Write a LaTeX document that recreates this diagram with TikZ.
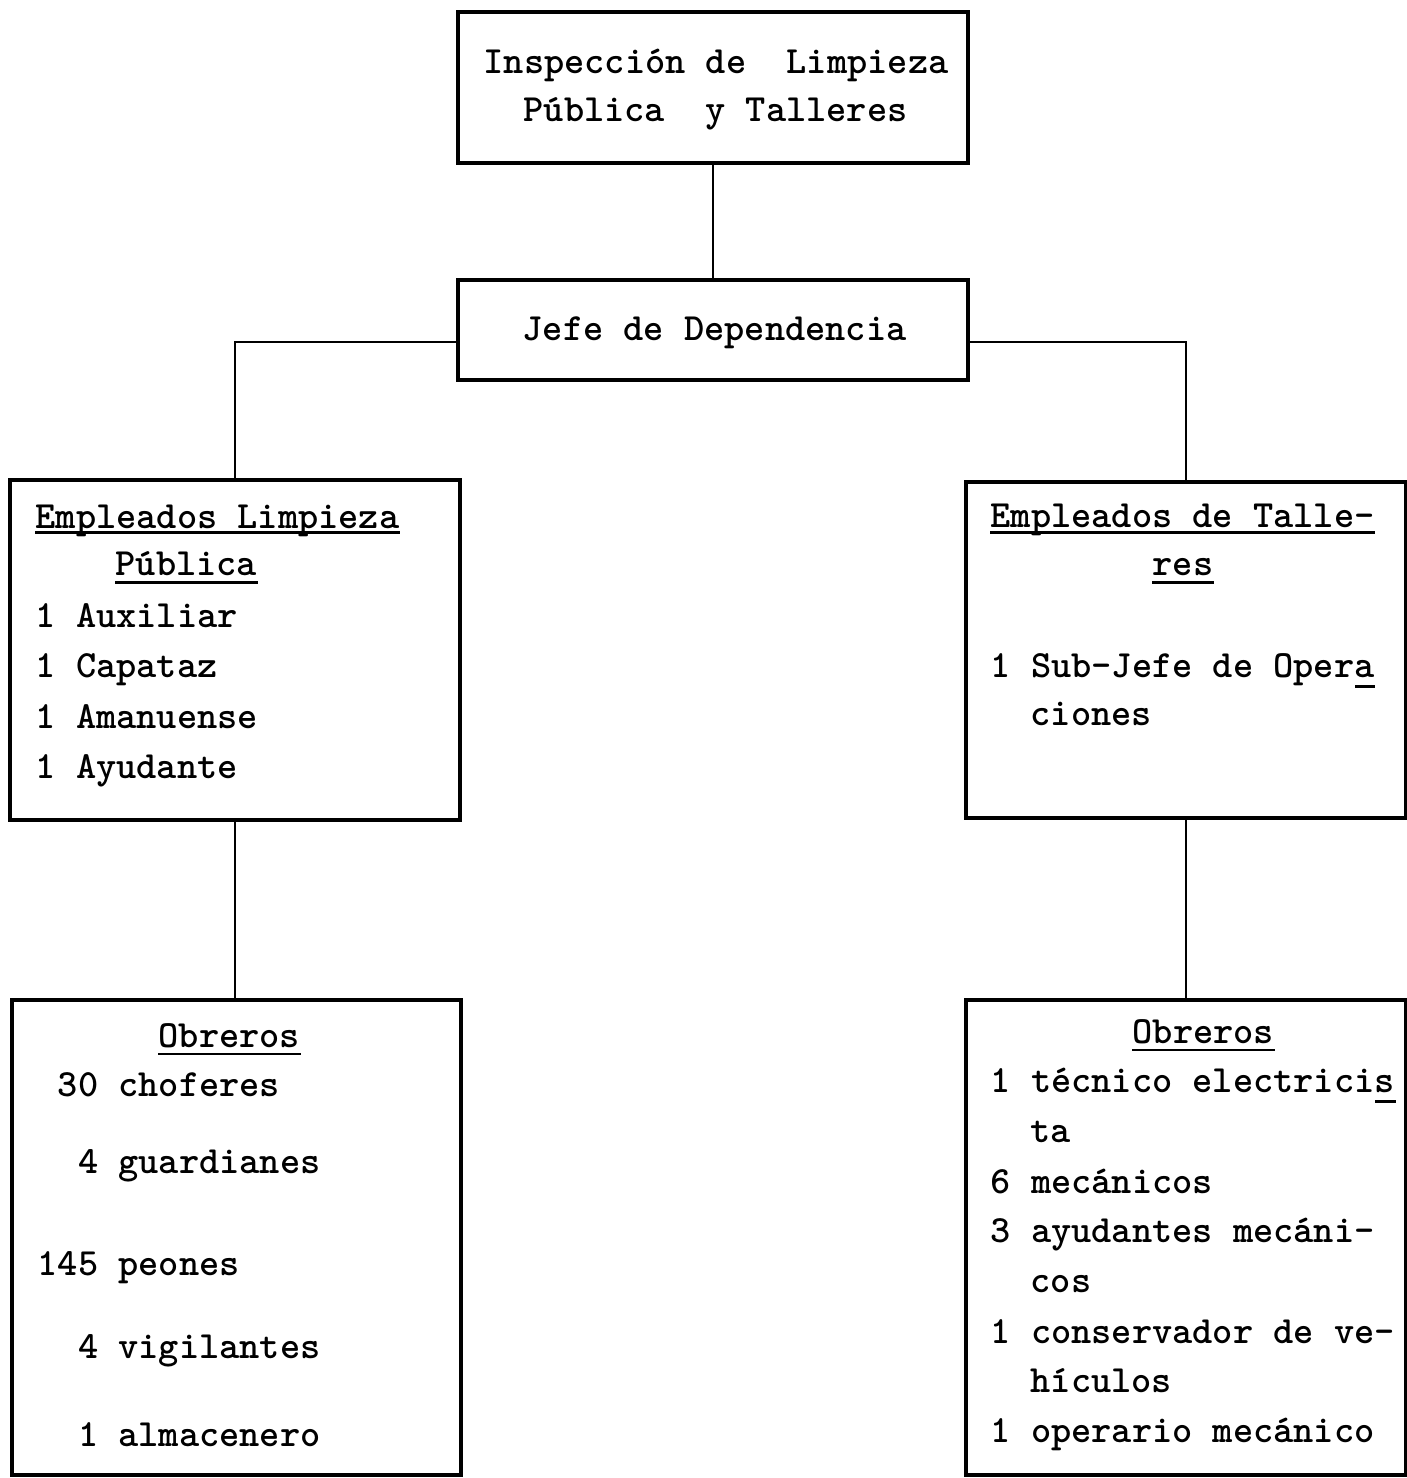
\documentclass[tikz,border=0pt]{standalone}
\usepackage{tikz}

\newcommand{\maquina}{\ttfamily\bfseries\fontsize{10.95}{14}\selectfont}

\tikzset{
  caja/.style={draw, line width=0.9pt, inner sep=0pt},
  linea/.style={line width=0.7pt},
  txt/.style={anchor=base west, inner sep=0pt, font=\maquina},
  subr/.style={line width=0.8pt},
}

\begin{document}
\begin{tikzpicture}
                \useasboundingbox (0,0) rectangle (14.07,-14.78);
                % cajas
                \node[caja, minimum width=5.10cm, minimum height=1.51cm] (insp) at (7.13,-0.875) {};
                \node[caja, minimum width=5.10cm, minimum height=1.00cm] (jefe) at (7.13,-3.30) {};
                \node[caja, minimum width=4.50cm, minimum height=3.40cm] (emplp) at (2.35,-6.50) {};
                \node[caja, minimum width=4.40cm, minimum height=3.36cm] (emplt) at (11.86,-6.50) {};
                \node[caja, minimum width=4.49cm, minimum height=4.75cm] (obrl) at (2.365,-12.375) {};
                \node[caja, minimum width=4.40cm, minimum height=4.75cm] (obrt) at (11.86,-12.375) {};
                % lineas
                \draw[linea] (insp.south) -- (jefe.north);
                \draw[linea] ([yshift=-1.2mm]jefe.west) -| (emplp.north);
                \draw[linea] ([yshift=-1.2mm]jefe.east) -| (emplt.north);
                \draw[linea] (emplp.south) -- (emplp.south |- obrl.north);
                \draw[linea] (emplt.south) -- (emplt.south |- obrt.north);
                % textos arriba
                \node[txt] (insp1) at (4.83,-0.73) {Inspección de~~Limpieza};
                \node[txt] (insp2) at (5.23,-1.21) {Pública~~y Talleres};
                \node[txt] (jefe1) at (5.22,-3.40) {Jefe de Dependencia};
                % empleados limpieza
                \node[txt] (elp1) at (0.35,-5.28) {Empleados Limpieza};
                \node[txt] (elp2) at (1.15,-5.75) {Pública};
                \node[txt] (elp3) at (0.35,-6.27) {1 Auxiliar};
                \node[txt] (elp4) at (0.35,-6.775) {1 Capataz};
                \node[txt] (elp5) at (0.35,-7.28) {1 Amanuense};
                \node[txt] (elp6) at (0.35,-7.785) {1 Ayudante};
                \draw[subr] ([yshift=-1.2pt]elp1.base west) -- ([yshift=-1.2pt]elp1.base east);
                \draw[subr] ([yshift=-2.2pt]elp2.base west) -- ([yshift=-2.2pt]elp2.base east);
                % empleados talleres
                \node[txt] (elt1) at (9.90,-5.27) {Empleados de Talle-};
                \node[txt] (elt2) at (11.52,-5.75) {res};
                \node[txt] (elt3) at (9.90,-6.77) {1 Sub-Jefe de Opera};
                \node[txt] (elt4) at (10.30,-7.25) {ciones};
                \draw[subr] ([yshift=-1.6pt]elt1.base west) -- ([yshift=-1.6pt]elt1.base east);
                \draw[subr] ([yshift=-2.2pt]elt2.base west) -- ([yshift=-2.2pt]elt2.base east);
                \draw[subr] ([xshift=-5.75pt,yshift=-2.6pt]elt3.base east) -- ([yshift=-2.6pt]elt3.base east);
                % obreros limpieza
                \node[txt] (obl1) at (1.58,-10.47) {Obreros};
                \node[txt] (obl2) at (0.37,-10.96) {~30 choferes};
                \node[txt] (obl3) at (0.37,-11.73) {~~4 guardianes};
                \node[txt] (obl4) at (0.37,-12.75) {145 peones};
                \node[txt] (obl5) at (0.37,-13.58) {~~4 vigilantes};
                \node[txt] (obl6) at (0.37,-14.46) {~~1 almacenero};
                \draw[subr] ([yshift=-2pt]obl1.base west) -- ([yshift=-2pt]obl1.base east);
                % obreros talleres
                \node[txt] (obt1) at (11.32,-10.43) {Obreros};
                \node[txt] (obt2) at (9.90,-10.92) {1 técnico electricis};
                \node[txt] (obt3) at (10.30,-11.42) {ta};
                \node[txt] (obt4) at (9.90,-11.93) {6 mecánicos};
                \node[txt] (obt5) at (9.90,-12.42) {3 ayudantes mecáni-};
                \node[txt] (obt6) at (10.30,-12.92) {cos};
                \node[txt] (obt7) at (9.90,-13.43) {1 conservador de ve-};
                \node[txt] (obt8) at (10.30,-13.92) {hículos};
                \node[txt] (obt9) at (9.90,-14.42) {1 operario mecánico};
                \draw[subr] ([yshift=-2pt]obt1.base west) -- ([yshift=-2pt]obt1.base east);
                \draw[subr] ([xshift=-5.75pt,yshift=-2.6pt]obt2.base east) -- ([yshift=-2.6pt]obt2.base east);
\end{tikzpicture}
\end{document}
